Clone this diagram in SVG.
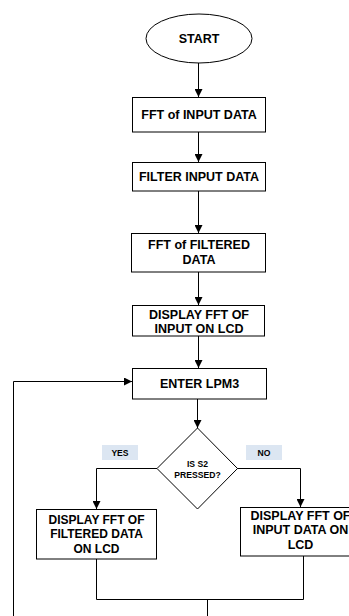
<svg xmlns="http://www.w3.org/2000/svg" width="349" height="616" viewBox="0 0 349 616">
<style>
.box{fill:#fff;stroke:#000;stroke-width:1}
.t{font-family:"Liberation Sans",Arial,sans-serif;font-weight:bold;font-size:12.5px;fill:#000;text-anchor:middle;dominant-baseline:central}
.m{font-size:12px}
.s{font-size:8.6px}
.lbl{fill:#dce6f2;stroke:none}
.c{fill:none;stroke:#000;stroke-width:1}
</style>
<defs>
<marker id="ah" viewBox="0 0 10 10" refX="10" refY="5" markerWidth="9" markerHeight="8" markerUnits="userSpaceOnUse" orient="auto">
<path d="M0,0 L10,5 L0,10 z" fill="#000"/>
</marker>
</defs>
<g id="connectors">
<path class="c" d="M198.5,63 V97" marker-end="url(#ah)"/>
<path class="c" d="M198.5,132 V162" marker-end="url(#ah)"/>
<path class="c" d="M198.5,191 V233" marker-end="url(#ah)"/>
<path class="c" d="M198.5,272 V305" marker-end="url(#ah)"/>
<path class="c" d="M198.5,336 V368" marker-end="url(#ah)"/>
<path class="c" d="M197.5,399 V428" marker-end="url(#ah)"/>
<path class="c" d="M157,468.5 H96.5 V509" marker-end="url(#ah)"/>
<path class="c" d="M237,468.5 H300.5 V507" marker-end="url(#ah)"/>
<path class="c" d="M96.5,559 V599.5 H303.5 V556"/>
<path class="c" d="M207.5,599.5 V616"/>
<path class="c" d="M13.5,616 V381.5 H132" marker-end="url(#ah)"/>
</g>
<g id="start">
<ellipse class="box" cx="199" cy="38.5" rx="53" ry="24.5"/>
<text class="t" x="199" y="38.5">START</text>
</g>
<g id="fft-input">
<rect class="box" x="132.5" y="97.5" width="133" height="34.5"/>
<text class="t" x="199" y="115">FFT of INPUT DATA</text>
</g>
<g id="filter-input">
<rect class="box" x="132.5" y="162.5" width="133" height="28.5"/>
<text class="t" x="199" y="177">FILTER INPUT DATA</text>
</g>
<g id="fft-filtered">
<rect class="box" x="131.5" y="233.5" width="134" height="38.5"/>
<text class="t" x="199" y="245">FFT of FILTERED</text>
<text class="t" x="199" y="260">DATA</text>
</g>
<g id="display-input">
<rect class="box" x="132.5" y="305.5" width="132" height="30.5"/>
<text class="t" x="199" y="314.5">DISPLAY FFT OF</text>
<text class="t" x="199" y="329">INPUT ON LCD</text>
</g>
<g id="enter-lpm3">
<rect class="box" x="132.5" y="368.5" width="134" height="30.5"/>
<text class="t" x="199.5" y="383.5">ENTER LPM3</text>
</g>
<g id="decision">
<polygon class="box" points="197.5,428 237.5,468.5 197.5,509 157,468.5"/>
<text class="t s" x="197.5" y="464">IS S2</text>
<text class="t s" x="197.5" y="474.5">PRESSED?</text>
</g>
<g id="yes-label">
<rect class="lbl" x="102" y="445" width="36" height="15"/>
<text class="t s" x="120" y="452.5">YES</text>
</g>
<g id="no-label">
<rect class="lbl" x="246" y="445" width="36" height="15"/>
<text class="t s" x="264" y="452.5">NO</text>
</g>
<g id="display-filtered-lcd">
<rect class="box" x="36.5" y="509.5" width="120" height="49.5"/>
<text class="t m" x="96.5" y="519.5">DISPLAY FFT OF</text>
<text class="t m" x="96.5" y="534">FILTERED DATA</text>
<text class="t m" x="96.5" y="548.5">ON LCD</text>
</g>
<g id="display-input-lcd">
<rect class="box" x="240.5" y="507.5" width="120" height="48.5"/>
<text class="t" x="300.5" y="515.5">DISPLAY FFT OF</text>
<text class="t" x="300.5" y="529.5">INPUT DATA ON</text>
<text class="t" x="300.5" y="545">LCD</text>
</g>
</svg>
